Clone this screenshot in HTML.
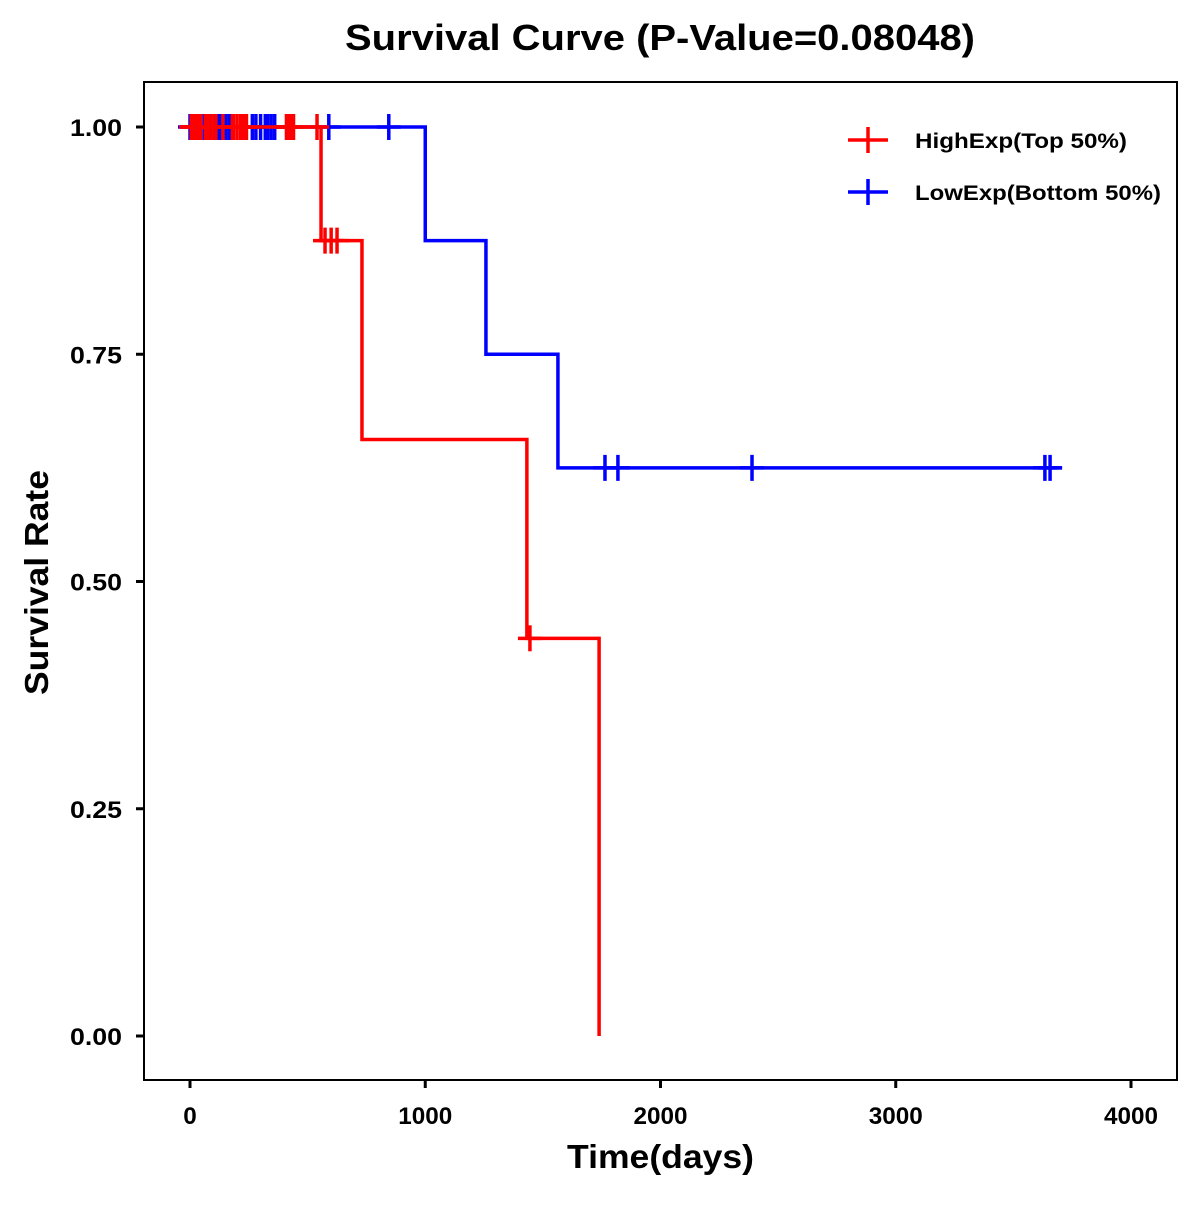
<!DOCTYPE html>
<html><head><meta charset="utf-8"><style>
body{margin:0;background:#fff}
svg text{font-family:"Liberation Sans",Arial,sans-serif;font-weight:bold;fill:#000}
</style></head><body>
<svg id="chart" width="1200" height="1200" viewBox="0 0 1200 1200" xmlns="http://www.w3.org/2000/svg">
<rect width="1200" height="1200" fill="#fff"/>
<text x="345" y="50" font-size="36" textLength="630" lengthAdjust="spacingAndGlyphs">Survival Curve (P-Value=0.08048)</text>
<rect x="144" y="82" width="1033" height="998" fill="none" stroke="#000" stroke-width="2"/>
<g id="axes"></g>
<g id="series"></g>
<text x="567" y="1168" font-size="33" textLength="187" lengthAdjust="spacingAndGlyphs">Time(days)</text>
<text transform="translate(48,695) rotate(-90)" font-size="33" textLength="225" lengthAdjust="spacingAndGlyphs">Survival Rate</text>
<g>
<g>
<line x1="848" y1="140" x2="888" y2="140" stroke="#f00" stroke-width="3.5"/><line x1="868" y1="127" x2="868" y2="153" stroke="#f00" stroke-width="3.5"/>
<text x="915" y="148" font-size="21" textLength="212" lengthAdjust="spacingAndGlyphs">HighExp(Top 50%)</text></g>
<g>
<line x1="848" y1="192" x2="888" y2="192" stroke="#00f" stroke-width="3.5"/><line x1="868" y1="179" x2="868" y2="205" stroke="#00f" stroke-width="3.5"/>
<text x="915" y="200" font-size="21" textLength="246" lengthAdjust="spacingAndGlyphs">LowExp(Bottom 50%)</text></g>
</g>
</svg>
<script>
const xTicks=[0,1000,2000,3000,4000];
const yTicks=[0,0.25,0.5,0.75,1.0];
const yTickLabels=["0.00","0.25","0.50","0.75","1.00"];
const highTimes=[0,557,731,1432,1739];
const highSurv=[1,0.875,0.65625,0.4375,0];
const highEnd=1739;
const highCensor=[5,10,20,25,35,45,65,70,80,95,110,140,180,185,200,215,225,235,240,410,420,430,440,540,574,600,625,1445];
const highCensorSurv=[1,1,1,1,1,1,1,1,1,1,1,1,1,1,1,1,1,1,1,1,1,1,1,1,0.875,0.875,0.875,0.4375];
const lowTimes=[0,1000,1258,1564];
const lowSurv=[1,0.875,0.75,0.625];
const lowEnd=3707;
const lowCensor=[0,10,15,25,40,60,70,90,100,115,125,135,150,165,175,265,280,300,320,330,345,360,590,845,1764,1819,2389,3634,3656];
const lowCensorSurv=[1,1,1,1,1,1,1,1,1,1,1,1,1,1,1,1,1,1,1,1,1,1,1,1,0.625,0.625,0.625,0.625,0.625];

const X=t=>190+t*0.23525;
const Y=s=>1036-s*909;
const NS='http://www.w3.org/2000/svg';
function mk(tag,attrs,parent){const e=document.createElementNS(NS,tag);for(const k in attrs)e.setAttribute(k,attrs[k]);parent.appendChild(e);return e;}
const axes=document.getElementById('axes');
xTicks.forEach(v=>{
  const l=mk('line',{x1:X(v),x2:X(v),y1:1080,y2:1088,stroke:'#000','stroke-width':3},axes);
  
  
  const s=String(v);
  const w=s.length*13.5;
  const t=mk('text',{x:X(v)-w/2,y:1124,'font-size':24,textLength:w,lengthAdjust:'spacingAndGlyphs'},axes);
  t.textContent=s;
  
  
});
yTicks.forEach((v,i)=>{
  const l=mk('line',{x1:136,x2:144,y1:Y(v),y2:Y(v),stroke:'#000','stroke-width':3},axes);
  
  
  const t=mk('text',{x:70,y:Y(v)+9,'font-size':24,textLength:52,lengthAdjust:'spacingAndGlyphs'},axes);
  t.textContent=yTickLabels[i];
  
  
});
const series=document.getElementById('series');
function drawSeries(times,surv,end,cT,cS,color,name){
  let d='M'+X(times[0])+','+Y(surv[0]);
  for(let i=1;i<times.length;i++){d+=' H'+X(times[i])+' V'+Y(surv[i]);}
  d+=' H'+X(end);
  const p=mk('path',{d:d,fill:'none',stroke:color,'stroke-width':3.5},series);
  
  
  cT.forEach((t,i)=>{
    const g=mk('g',{},series);
    
    
    const x=X(t),y=Y(cS[i]);
    mk('line',{x1:x-12,x2:x+12,y1:y,y2:y,stroke:color,'stroke-width':3.5},g);
    mk('line',{x1:x,x2:x,y1:y-13,y2:y+13,stroke:color,'stroke-width':3.5},g);
  });
}
drawSeries(lowTimes,lowSurv,lowEnd,lowCensor,lowCensorSurv,'#00f','low-exp');
drawSeries(highTimes,highSurv,highEnd,highCensor,highCensorSurv,'#f00','high-exp');
</script>
</body></html>
